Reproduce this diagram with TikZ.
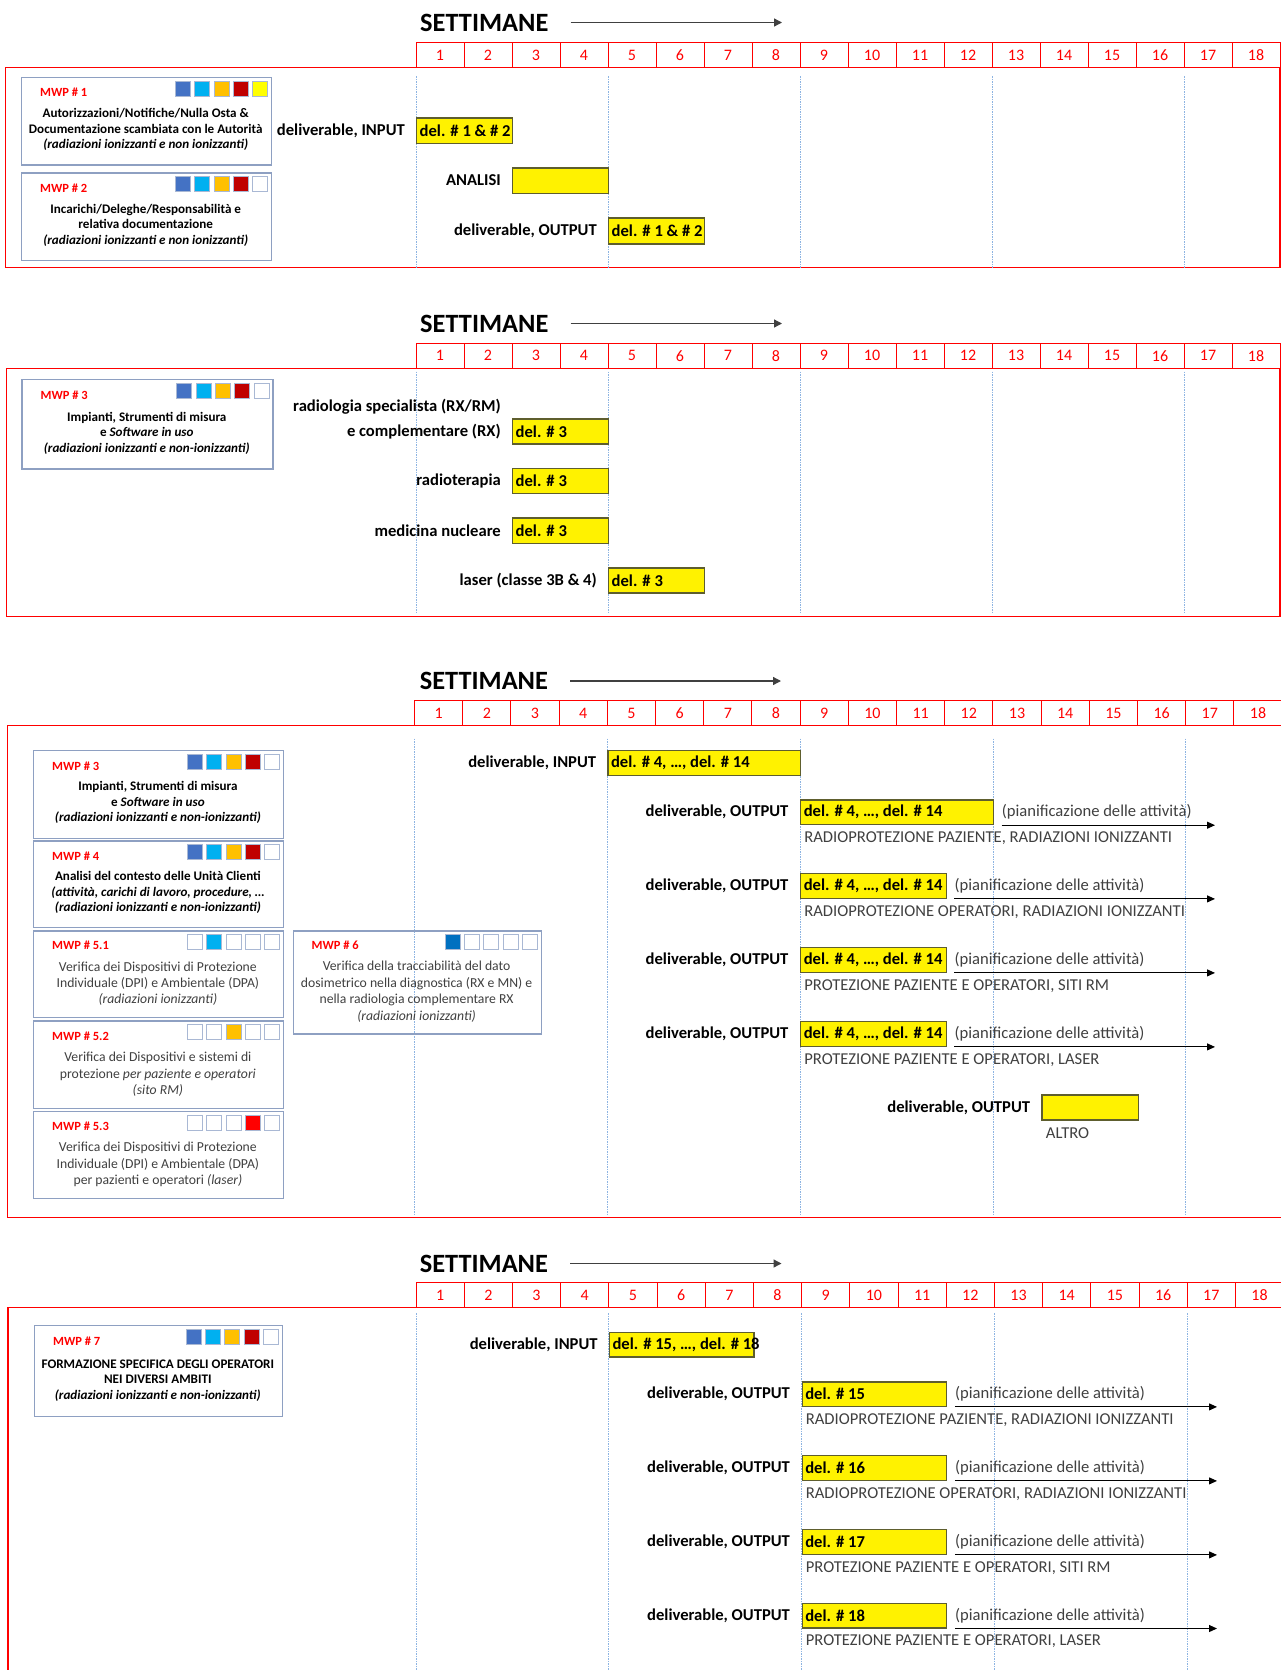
\documentclass[tikz,border=0pt]{standalone}
\usepackage{fontspec}
\setmainfont{Carlito}
\usetikzlibrary{arrows.meta,positioning}
\definecolor{cA}{HTML}{4472C4}
\definecolor{cB}{HTML}{00B0F0}
\definecolor{cC}{HTML}{FFC000}
\definecolor{cD}{HTML}{C00000}
\definecolor{cE}{HTML}{FFFF00}
\definecolor{cF}{HTML}{FF0000}
\definecolor{cG}{HTML}{0070C0}
\definecolor{mwpb}{HTML}{8EA0C2}
\definecolor{sqb}{HTML}{A9B8D4}
\definecolor{ybord}{HTML}{5E5E2E}
\definecolor{dashc}{HTML}{8DB4E2}
\definecolor{tgray}{HTML}{404040}
\definecolor{hred}{HTML}{FF0000}
\definecolor{agray}{HTML}{404040}
\newcommand\fsHead{\fontsize{26.4}{30}\selectfont}
\newcommand\fsNum{\fontsize{16}{19}\selectfont}
\newcommand\fsLab{\fontsize{16.6}{19}\selectfont}
\newcommand\fsMwp{\fontsize{12.5}{15}\selectfont}
\newcommand\fsBoxB{\fontsize{13.1}{15.6}\selectfont}
\newcommand\fsBoxR{\fontsize{13.7}{16.4}\selectfont}
\newcommand\hdr[4]{\foreach \i in {1,...,18}{\node[hcell, minimum width=#3] (#1-\i) at ({#2+(\i-0.5)*#3},#4) {\i};}}
\newcommand\vlines[4]{\foreach \k in {0,4,8,12,16}{\draw[vdash] ({#1+\k*#2},#3) -- ({#1+\k*#2},#4);}}
\newcommand\sqrow[6]{\foreach \cc [count=\k from 0] in {#2,#3,#4,#5,#6}{\pgfmathsetmacro\xx{-96.7+\k*19.3}\draw[sqst, fill=\cc] ([xshift=\xx pt, yshift=-4.5pt]#1.north east) rectangle ++(15,15);}}
\newcommand\outrow[8]{%
 \node[ybox, minimum width=#4, minimum height=#5] (#1) at (#2,#3) {};
 \node[ytxt] (#1t) at ([xshift=3.5pt]#1.west) {#6};
 \node[lab, left=11.5pt of #1] (#1l) {deliverable, OUTPUT};
 \node[ptxt, right=7.5pt of #1] (#1p) {(pianificazione delle attività)};
 \draw[parr] ([xshift=7.5pt]#1.south east) -- (#1.south -| #8);
 \node[ptxt] (#1s) at ([xshift=4pt,yshift=-13pt]#1.south west) {#7};}
\begin{document}
\begin{tikzpicture}[x=1pt,y=-1pt,
 secbox/.style={draw=hred, line width=1.3pt},
 hcell/.style={draw=hred, line width=1pt, minimum height=25pt, inner sep=0pt, text=hred, font=\fsNum},
 vdash/.style={draw=dashc, line width=0.8pt, dash pattern=on 1.5pt off 1pt},
 ttl/.style={anchor=west, inner sep=0pt, font=\bfseries\fsHead},
 sarr/.style={draw=agray, line width=1.3pt, -{Triangle[length=8pt,width=8pt]}},
 mwpbox/.style={draw=mwpb, line width=1.3pt, inner sep=0pt, anchor=north west},
 mwplab/.style={anchor=west, inner sep=0pt, text=hred, font=\bfseries\fsMwp},
 mwptb/.style={align=center, inner sep=0pt, font=\bfseries\fsBoxB},
 mwptr/.style={align=center, inner sep=0pt, text=tgray, font=\fsBoxR},
 sqst/.style={draw=sqb, line width=0.9pt},
 ybox/.style={draw=ybord, fill=yellow, line width=1.2pt, inner sep=0pt, anchor=north west},
 ytxt/.style={anchor=west, inner sep=0pt, font=\bfseries\fsLab},
 lab/.style={inner sep=0pt, font=\bfseries\fsLab},
 ptxt/.style={anchor=west, inner sep=0pt, text=tgray, font=\fsLab},
 parr/.style={draw=black, line width=1pt, -{Triangle[length=8pt,width=7pt]}}
]
\fill[white] (0,0) rectangle (1281,1670);
\useasboundingbox (0,0) rectangle (1281,1670);

% ---------------- Section 1
\node[ttl] (st1) at (420,22.5) {SETTIMANE};
\coordinate (ae1) at (782,0);
\draw[sarr] ([xshift=22pt]st1.east) -- (st1.east -| ae1);
\draw[secbox] (5.5,67.3) rectangle (1280,267.7);
\hdr{h1}{416}{48}{55}
\vlines{416}{48}{76}{267.7}

\node[mwpbox, minimum width=250.5, minimum height=87.6] (m1) at (20.5,76.7) {};
\node[mwplab] (m1l) at ([xshift=19.5pt,yshift=-15.7pt]m1.north west) {MWP \# 1};
\sqrow{m1}{cA}{cB}{cC}{cD}{cE}
\node[mwptb] (m1t) at (145.7,129.5) {Autorizzazioni/Notifiche/Nulla Osta \&\\Documentazione scambiata con le Autorità\\\textit{(radiazioni ionizzanti e non ionizzanti)}};

\node[mwpbox, minimum width=250.5, minimum height=87.7] (m2) at (20.5,172.3) {};
\node[mwplab] (m2l) at ([xshift=19.5pt,yshift=-15.7pt]m2.north west) {MWP \# 2};
\sqrow{m2}{cA}{cB}{cC}{cD}{white}
\node[mwptb] (m2t) at (145.7,225.2) {Incarichi/Deleghe/Responsabilità e\\relativa documentazione\\\textit{(radiazioni ionizzanti e non ionizzanti)}};

\node[ybox, minimum width=96, minimum height=25.4] (y1) at (416,117.3) {};
\node[ytxt] (y1t) at ([xshift=3.5pt]y1.west) {del. \# 1 \& \# 2};
\node[lab, left=11pt of y1] (y1l) {deliverable, INPUT};
\node[ybox, minimum width=96, minimum height=25.4] (y2) at (512,167.3) {};
\node[lab, left=11pt of y2] (y2l) {ANALISI};
\node[ybox, minimum width=96, minimum height=26] (y3) at (608,217.3) {};
\node[ytxt] (y3t) at ([xshift=3.5pt]y3.west) {del. \# 1 \& \# 2};
\node[lab, left=11pt of y3] (y3l) {deliverable, OUTPUT};

% ---------------- Section 2
\node[ttl] (st2) at (420,323.5) {SETTIMANE};
\coordinate (ae2) at (782,0);
\draw[sarr] ([xshift=22pt]st2.east) -- (st2.east -| ae2);
\draw[secbox] (6.3,368.3) rectangle (1280,616.7);
\hdr{h2}{416}{48}{355.8}
\vlines{416}{48}{371.7}{612}

\node[mwpbox, minimum width=250.9, minimum height=89.3] (m3) at (21.4,379) {};
\node[mwplab] (m3l) at ([xshift=19pt,yshift=-16.5pt]m3.north west) {MWP \# 3};
\sqrow{m3}{cA}{cB}{cC}{cD}{white}
\node[mwptb] (m3t) at (146.8,433.2) {Impianti, Strumenti di misura\\e \textit{Software in uso}\\\textit{(radiazioni ionizzanti e non-ionizzanti)}};

\node[ybox, minimum width=96, minimum height=25] (y4) at (512,418.3) {};
\node[ytxt] (y4t) at ([xshift=3.5pt]y4.west) {del. \# 3};
\node[lab, left=11pt of y4] (y4l) {e complementare (RX)};
\node[lab, anchor=east] (y4m) at (501,406.7) {radiologia specialista (RX/RM)};
\node[ybox, minimum width=96, minimum height=25.3] (y5) at (512,467.7) {};
\node[ytxt] (y5t) at ([xshift=3.5pt]y5.west) {del. \# 3};
\node[lab, left=11pt of y5] (y5l) {radioterapia};
\node[ybox, minimum width=96, minimum height=25.4] (y6) at (512,517.3) {};
\node[ytxt] (y6t) at ([xshift=3.5pt]y6.west) {del. \# 3};
\node[lab, left=11pt of y6] (y6l) {medicina nucleare};
\node[ybox, minimum width=96, minimum height=25] (y7) at (608,567.3) {};
\node[ytxt] (y7t) at ([xshift=3.5pt]y7.west) {del. \# 3};
\node[lab, left=11pt of y7] (y7l) {laser (classe 3B \& 4)};

% ---------------- Section 3
\node[ttl] (st3) at (419.6,681) {SETTIMANE};
\coordinate (ae3) at (781,0);
\draw[sarr] ([xshift=22pt]st3.east) -- (st3.east -| ae3);
\draw[secbox] (7.2,725.7) rectangle (1283,1217.3);
\hdr{h3}{414.5}{48.2}{713.2}
\vlines{414.5}{48.2}{738.5}{1214}

\node[mwpbox, minimum width=250, minimum height=87.5] (m3b) at (32.9,750) {};
\node[mwplab] (m3bl) at ([xshift=19pt,yshift=-16pt]m3b.north west) {MWP \# 3};
\sqrow{m3b}{cA}{cB}{cC}{cD}{white}
\node[mwptb] (m3bt) at (157.9,802.7) {Impianti, Strumenti di misura\\e \textit{Software in uso}\\\textit{(radiazioni ionizzanti e non-ionizzanti)}};

\node[mwpbox, minimum width=250, minimum height=86.7] (m4) at (32.9,840.4) {};
\node[mwplab] (m4l) at ([xshift=19pt,yshift=-16pt]m4.north west) {MWP \# 4};
\sqrow{m4}{cA}{cB}{cC}{cD}{white}
\node[mwptb] (m4t) at (157.9,892.7) {Analisi del contesto delle Unità Clienti\\\textit{(attività, carichi di lavoro, procedure, …}\\\textit{(radiazioni ionizzanti e non-ionizzanti)}};

\node[mwpbox, minimum width=250, minimum height=86.7] (m51) at (32.9,930.4) {};
\node[mwplab] (m51l) at ([xshift=19pt,yshift=-15.3pt]m51.north west) {MWP \# 5.1};
\sqrow{m51}{white}{cB}{white}{white}{white}
\node[mwptr] (m51t) at (157.9,983.6) {Verifica dei Dispositivi di Protezione\\Individuale (DPI) e Ambientale (DPA)\\\textit{(radiazioni ionizzanti)}};

\node[mwpbox, minimum width=250, minimum height=87.5] (m52) at (32.9,1020.4) {};
\node[mwplab] (m52l) at ([xshift=19pt,yshift=-16pt]m52.north west) {MWP \# 5.2};
\sqrow{m52}{white}{white}{cC}{white}{white}
\node[mwptr] (m52t) at (157.9,1074.5) {Verifica dei Dispositivi e sistemi di\\protezione \textit{per paziente e operatori}\\\textit{(sito RM)}};

\node[mwpbox, minimum width=250, minimum height=87.2] (m53) at (32.9,1110.7) {};
\node[mwplab] (m53l) at ([xshift=19pt,yshift=-15.7pt]m53.north west) {MWP \# 5.3};
\sqrow{m53}{white}{white}{white}{cF}{white}
\node[mwptr] (m53t) at (157.9,1164.6) {Verifica dei Dispositivi di Protezione\\Individuale (DPI) e Ambientale (DPA)\\per pazienti e operatori \textit{(laser)}};

\node[mwpbox, minimum width=248.2, minimum height=102.8] (m6) at (292.5,930.4) {};
\node[mwplab] (m6l) at ([xshift=19pt,yshift=-15pt]m6.north west) {MWP \# 6};
\sqrow{m6}{cG}{white}{white}{white}{white}
\node[mwptr] (m6t) at (416.6,991.6) {Verifica della tracciabilità del dato\\dosimetrico nella diagnostica (RX e MN) e\\nella radiologia complementare RX\\\textit{(radiazioni ionizzanti)}};

\node[ybox, minimum width=192.8, minimum height=24.7] (y8) at (607.3,750) {};
\node[ytxt] (y8t) at ([xshift=3.5pt]y8.west) {del. \# 4, …, del. \# 14};
\node[lab, left=11pt of y8] (y8l) {deliverable, INPUT};
\coordinate (pe3) at (1215,0);
\outrow{y9}{800.1}{799.3}{192.8}{24.7}{del. \# 4, …, del. \# 14}{RADIOPROTEZIONE PAZIENTE, RADIAZIONI IONIZZANTI}{pe3}
\outrow{y10}{800.1}{873}{145.6}{24.7}{del. \# 4, …, del. \# 14}{RADIOPROTEZIONE OPERATORI, RADIAZIONI IONIZZANTI}{pe3}
\outrow{y11}{800.1}{946.7}{145.6}{25}{del. \# 4, …, del. \# 14}{PROTEZIONE PAZIENTE E OPERATORI, SITI RM}{pe3}
\outrow{y12}{800.1}{1020.7}{145.6}{25}{del. \# 4, …, del. \# 14}{PROTEZIONE PAZIENTE E OPERATORI, LASER}{pe3}
\node[ybox, minimum width=96.7, minimum height=25] (y13) at (1041.3,1094.3) {};
\node[lab, left=11pt of y13] (y13l) {deliverable, OUTPUT};
\node[ptxt] (y13s) at ([xshift=4.4pt,yshift=-12.4pt]y13.south west) {ALTRO};

% ---------------- Section 4
\node[ttl] (st4) at (419.6,1263.5) {SETTIMANE};
\coordinate (ae4) at (781.5,0);
\draw[sarr] ([xshift=22pt]st4.east) -- (st4.east -| ae4);
\draw[secbox] (8,1307.3) rectangle (1285,1680);
\hdr{h4}{416}{48.2}{1295}
\vlines{416}{48.2}{1313.3}{1670}

\node[mwpbox, minimum width=247.8, minimum height=90.7] (m7) at (33.9,1325) {};
\node[mwplab] (m7l) at ([xshift=19pt,yshift=-16pt]m7.north west) {MWP \# 7};
\sqrow{m7}{cA}{cB}{cC}{cD}{white}
\node[mwptb] (m7t) at (157.8,1380.5) {FORMAZIONE SPECIFICA DEGLI OPERATORI\\NEI DIVERSI AMBITI\\\textit{(radiazioni ionizzanti e non-ionizzanti)}};

\node[ybox, minimum width=144.6, minimum height=24.6] (y14) at (608.8,1331.7) {};
\node[ytxt] (y14t) at ([xshift=3.5pt]y14.west) {del. \# 15, …, del. \# 18};
\node[lab, left=11pt of y14] (y14l) {deliverable, INPUT};
\coordinate (pe4) at (1217,0);
\outrow{y15}{801.6}{1381.3}{144.6}{24.4}{del. \# 15}{RADIOPROTEZIONE PAZIENTE, RADIAZIONI IONIZZANTI}{pe4}
\outrow{y16}{801.6}{1455}{144.6}{24.7}{del. \# 16}{RADIOPROTEZIONE OPERATORI, RADIAZIONI IONIZZANTI}{pe4}
\outrow{y17}{801.6}{1528.7}{144.6}{25}{del. \# 17}{PROTEZIONE PAZIENTE E OPERATORI, SITI RM}{pe4}
\outrow{y18}{801.6}{1602.7}{144.6}{24.6}{del. \# 18}{PROTEZIONE PAZIENTE E OPERATORI, LASER}{pe4}
\end{tikzpicture}
\end{document}
